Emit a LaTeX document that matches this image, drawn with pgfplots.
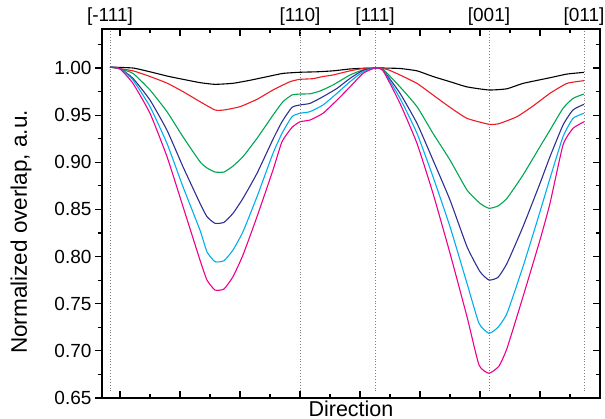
\documentclass[border=0pt]{standalone}
\usepackage{pgfplots}
\pgfplotsset{compat=1.18}
\usepackage{fontspec}
\setmainfont{Liberation Sans}
\definecolor{cRed}{HTML}{ED1C24}
\definecolor{cGreen}{HTML}{00A651}
\definecolor{cNavy}{HTML}{2E3192}
\definecolor{cCyan}{HTML}{00AEEF}
\definecolor{cPink}{HTML}{EC008C}
\pgfplotsset{
  common/.style={
    scale only axis, width=498pt, height=369pt,
    xmin=102, xmax=600, ymin=0.65, ymax=1.0414,
    major tick length=7pt, minor tick length=4pt,
    /pgf/number format/assume math mode=true,
  },
  crv/.style={#1, line width=1.1pt, smooth, tension=0.3},
}
\begin{document}
\begin{tikzpicture}
\begin{axis}[common, name=main,
  axis line style={line width=1.2pt},
  every tick/.style={black, line width=1.1pt},
  xtick={120,180,240,300,360,420,480,540},
  minor xtick={150,210,270,330,390,450,510,570},
  xticklabels={}, xtick pos=both, xtick align=inside,
  ytick={0.65,0.7,0.75,0.8,0.85,0.9,0.95,1.0},
  minor ytick={0.675,0.725,0.775,0.825,0.875,0.925,0.975,1.025},
  ytick pos=left, ytick align=outside,
  y tick label style={font=\fontsize{19}{21}\selectfont,
    /pgf/number format/fixed, /pgf/number format/fixed zerofill,
    /pgf/number format/precision=2},
  xlabel={Direction},
  xlabel style={font=\fontsize{21.5}{24}\selectfont, at={(axis description cs:0.5,0)}, anchor=north, inner sep=0pt, yshift=-3pt},
  ylabel={Normalized overlap, a.u.},
  ylabel style={font=\fontsize{22.5}{25}\selectfont, at={(axis description cs:-0.1627,0.45)}, anchor=center, inner sep=0pt},
]
\addplot[gray, dotted, line width=0.9pt] coordinates {(110,0.657) (110,1.0414)};
\addplot[gray, dotted, line width=0.9pt] coordinates {(300,0.657) (300,1.0414)};
\addplot[gray, dotted, line width=0.9pt] coordinates {(375,0.657) (375,1.0414)};
\addplot[gray, dotted, line width=0.9pt] coordinates {(489,0.657) (489,1.0414)};
\addplot[gray, dotted, line width=0.9pt] coordinates {(584,0.657) (584,1.0414)};
% black
\addplot[crv=black] coordinates {
(110,1.001) (133,1.000) (150,0.996) (167,0.9915) (183,0.988) (200,0.9845) (215,0.9827) (233,0.9838) (250,0.987) (267,0.9908) (283,0.9943) (300,0.9955) (317,0.996) (333,0.997) (350,0.999) (363,0.9997) (375,1.000)
(383,1.000) (400,0.9995) (417,0.997) (433,0.991) (450,0.9855) (467,0.980) (489,0.9767) (507,0.978) (523,0.9837) (550,0.9897) (567,0.9936) (584,0.9954)};
% red
\addplot[crv=cRed] coordinates {
(110,1.001) (133,0.997) (150,0.991) (167,0.984) (183,0.975) (200,0.9643) (215,0.9555) (224,0.9555) (240,0.959) (257,0.9668) (273,0.9767) (290,0.9855) (300,0.988) (313,0.9887) (323,0.991) (333,0.9926) (350,0.997) (363,0.9995) (375,1.000)
(387,0.9986) (400,0.9926) (417,0.9837) (433,0.9714) (450,0.9583) (467,0.9466) (489,0.9403) (499,0.941) (517,0.9484) (533,0.9597) (550,0.9732) (567,0.9837) (584,0.9866)};
% green
\addplot[crv=cGreen] coordinates {
(110,1.001) (120,0.999) (133,0.9943) (150,0.9767) (167,0.9537) (183,0.927) (200,0.9006) (207,0.894) (215,0.8897) (224,0.8897) (233,0.896) (243,0.906) (257,0.9254) (273,0.950) (283,0.9643) (292,0.9714) (300,0.9724) (310,0.9727) (320,0.9756) (333,0.982) (350,0.9926) (363,0.998) (375,1.000)
(383,0.9986) (400,0.980) (417,0.959) (433,0.9307) (450,0.9024) (467,0.8706) (480,0.8565) (489,0.8512) (498,0.8537) (507,0.8618) (523,0.8865) (540,0.9166) (550,0.9342) (563,0.9572) (573,0.9678) (584,0.9724)};
% navy
\addplot[crv=cNavy] coordinates {
(110,1.001) (120,0.9995) (133,0.989) (150,0.966) (167,0.934) (183,0.8953) (200,0.8565) (207,0.8423) (215,0.8353) (224,0.8363) (233,0.8459) (243,0.8618) (257,0.8883) (273,0.9244) (282,0.943) (292,0.9583) (300,0.9608) (310,0.9625) (323,0.9696) (337,0.9784) (350,0.989) (363,0.9975) (375,1.000)
(383,0.9978) (400,0.9732) (417,0.9413) (433,0.9024) (450,0.860) (467,0.8105) (480,0.784) (489,0.7751) (498,0.778) (507,0.7928) (523,0.8317) (540,0.8777) (550,0.906) (563,0.9395) (573,0.9555) (584,0.9615)};
% cyan
\addplot[crv=cCyan] coordinates {
(110,1.001) (120,0.9992) (133,0.9873) (150,0.959) (167,0.920) (183,0.874) (200,0.828) (207,0.805) (215,0.7946) (224,0.7956) (233,0.807) (243,0.8264) (257,0.8635) (273,0.9095) (282,0.9307) (292,0.9484) (300,0.952) (310,0.9537) (323,0.9608) (337,0.9732) (350,0.9855) (363,0.996) (375,1.000)
(383,0.9975) (400,0.9678) (417,0.9307) (433,0.8847) (450,0.8317) (467,0.7716) (479,0.7292) (489,0.7186) (498,0.725) (507,0.7398) (523,0.7893) (540,0.8476) (550,0.883) (563,0.9271) (573,0.9466) (584,0.952)};
% pink
\addplot[crv=cPink] coordinates {
(110,1.001) (120,0.999) (133,0.9837) (150,0.952) (167,0.906) (183,0.853) (200,0.7963) (207,0.7751) (215,0.7645) (224,0.7656) (233,0.7787) (243,0.8017) (257,0.8423) (273,0.8918) (282,0.9218) (292,0.937) (300,0.943) (310,0.9448) (323,0.952) (337,0.966) (350,0.980) (363,0.9943) (375,1.000)
(383,0.9972) (400,0.9625) (417,0.920) (433,0.867) (450,0.8035) (467,0.7362) (479,0.685) (489,0.6762) (499,0.6839) (507,0.7027) (523,0.7574) (540,0.8176) (550,0.8565) (563,0.9183) (573,0.936) (584,0.943)};
\end{axis}
\begin{axis}[common, at={(main.south west)}, anchor=south west,
  axis line style={draw=none},
  xtick={110,300,375,489,584},
  xticklabels={{[-111]},{[110]},{[111]},{[001]},{[011]}},
  xtick pos=right, xticklabel pos=right, xtick style={draw=none},
  x tick label style={font=\fontsize{19}{21}\selectfont, anchor=south, inner sep=0pt, yshift=3pt},
  ytick={0.65,0.7,0.75,0.8,0.85,0.9,0.95,1.0},
  minor ytick={0.675,0.725,0.775,0.825,0.875,0.925,0.975,1.025},
  yticklabels={}, ytick pos=right, ytick align=inside,
  ytick style={black, line width=1.1pt},
]
\end{axis}
\pgfresetboundingbox
\path[use as bounding box] ([xshift=-102pt,yshift=-21pt]main.south west) rectangle ([xshift=5pt,yshift=29pt]main.north east);
\end{tikzpicture}
\end{document}
